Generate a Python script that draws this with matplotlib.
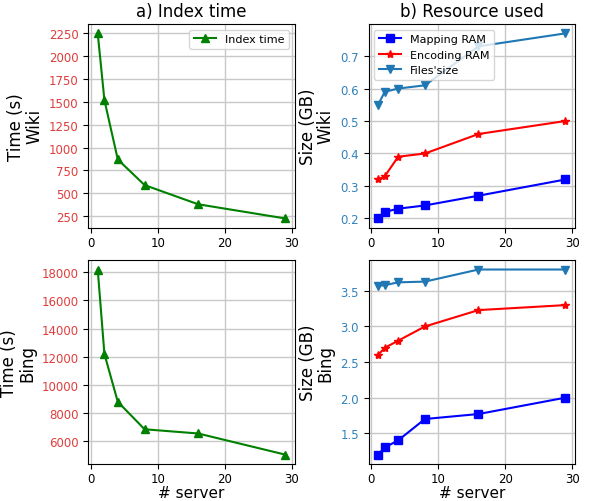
import matplotlib
matplotlib.use("Agg")
import matplotlib.pyplot as plt

servers = [1, 2, 4, 8, 16, 29]
wiki_time = [2250, 1520, 870, 590, 380, 225]
bing_time = [18200, 12200, 8800, 6850, 6550, 5050]
wiki_mapping = [0.20, 0.22, 0.23, 0.24, 0.27, 0.32]
wiki_encoding = [0.32, 0.33, 0.39, 0.40, 0.46, 0.50]
wiki_files = [0.55, 0.59, 0.60, 0.61, 0.73, 0.77]
bing_mapping = [1.2, 1.3, 1.4, 1.7, 1.77, 2.0]
bing_encoding = [2.6, 2.7, 2.8, 3.0, 3.23, 3.3]
bing_files = [3.57, 3.58, 3.62, 3.63, 3.8, 3.8]
wiki_time_ticks = [250, 500, 750, 1000, 1250, 1500, 1750, 2000, 2250]
x_ticks = [0, 10, 20, 30]

fig, axes = plt.subplots(2, 2, figsize=(5.89, 5.02), dpi=100)
fig.subplots_adjust(left=0.15, right=0.976, top=0.95, bottom=0.074, wspace=0.36, hspace=0.16)

gridkw = dict(color="#c8c8c8", linewidth=1.0)
ylab = dict(fontsize=12, linespacing=1.0)

ax = axes[0, 0]
ax.plot(servers, wiki_time, color="green", marker="^", label="Index time")
ax.set_yticks(wiki_time_ticks)
ax.set_title("a) Index time", fontsize=12)
ax.set_ylabel("Time (s)\nWiki", **ylab)
ax.legend(loc="upper right", fontsize=8)

ax = axes[1, 0]
ax.plot(servers, bing_time, color="green", marker="^")
ax.set_ylabel("Time (s)\nBing", **ylab)
ax.set_xlabel("# server", fontsize=11, labelpad=0)

ax = axes[0, 1]
ax.plot(servers, wiki_mapping, color="blue", marker="s", label="Mapping RAM")
ax.plot(servers, wiki_encoding, color="red", marker="*", label="Encoding RAM")
ax.plot(servers, wiki_files, color="tab:blue", marker="v", label="Files'size")
ax.set_title("b) Resource used", fontsize=12)
ax.set_ylabel("Size (GB)\nWiki", **ylab)
ax.legend(loc="upper left", fontsize=8)

ax = axes[1, 1]
ax.plot(servers, bing_mapping, color="blue", marker="s")
ax.plot(servers, bing_encoding, color="red", marker="*")
ax.plot(servers, bing_files, color="tab:blue", marker="v")
ax.set_ylabel("Size (GB)\nBing", **ylab)
ax.set_xlabel("# server", fontsize=11, labelpad=0)

for i in range(2):
    for j in range(2):
        ax = axes[i, j]
        ax.set_axisbelow(True)
        ax.grid(True, **gridkw)
        ax.set_xticks(x_ticks)
        ax.tick_params(labelsize=8.5)
        ax.tick_params(axis="x", pad=2.5)
        ax.tick_params(axis="y", labelcolor=("#e03c3c" if j == 0 else "#3182bd"))

fig.savefig("out.png")
